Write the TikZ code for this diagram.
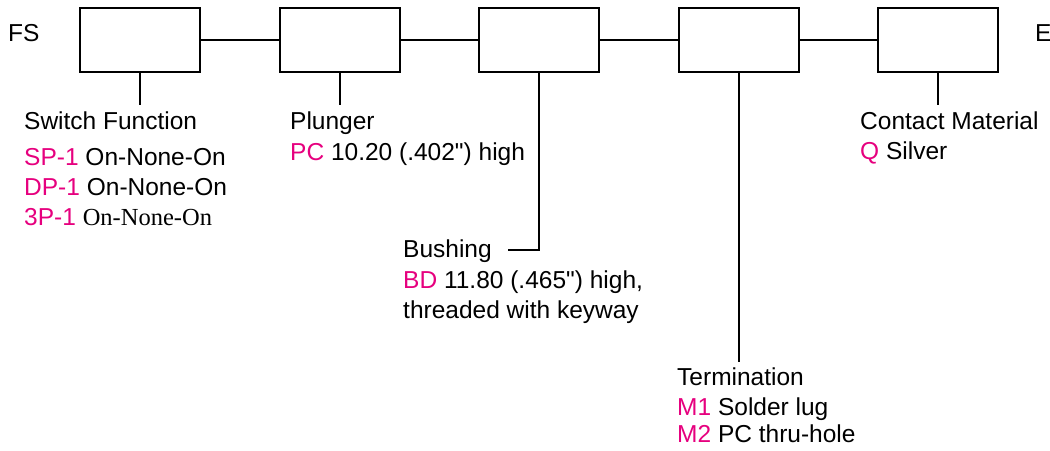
\documentclass[tikz,border=0pt]{standalone}
\usepackage{fontspec}
\setmainfont{Liberation Sans}
\newfontfamily\nomap{Liberation Sans}
\newfontfamily\serifalt{Liberation Serif}
\definecolor{pnk}{RGB}{230,0,126}
\begin{document}
\begin{tikzpicture}[x=1pt,y=-1pt,
  box/.style={draw,line width=2pt,minimum width=120pt,minimum height=64pt,inner sep=0pt},
  wire/.style={line width=2pt},
  lbl/.style={anchor=base west,inner sep=0pt,font=\fontsize{24.5}{29}\selectfont}]
\useasboundingbox (0,0) rectangle (1050,450);
\node[box] (b1) at (140,40) {};
\node[box] (b2) at (340,40) {};
\node[box] (b3) at (539,40) {};
\node[box] (b4) at (739,40) {};
\node[box] (b5) at (938,40) {};
\draw[wire] (b1.east) -- (b2.west);
\draw[wire] (b2.east) -- (b3.west);
\draw[wire] (b3.east) -- (b4.west);
\draw[wire] (b4.east) -- (b5.west);
\coordinate (t1) at (140,105);
\coordinate (t2) at (340,105);
\coordinate (t3a) at (539,250);
\coordinate (t3b) at (508,250);
\coordinate (t4) at (739,362);
\coordinate (t5) at (938,105);
\draw[wire] (b1.south) -- (t1);
\draw[wire] (b2.south) -- (t2);
\draw[wire] (b3.south) -- (t3a) -- (t3b);
\draw[wire] (b4.south) -- (t4);
\draw[wire] (b5.south) -- (t5);
\node[lbl] (fs) at (8,41) {FS};
\node[lbl] (e) at (1035,41) {E};
\node[lbl] (sf) at (24,129) {Switch Function};
\node[lbl] (sp) at (24,165) {\textcolor{pnk}{SP-1} On-None-On};
\node[lbl] (dp) at (24,195) {\textcolor{pnk}{DP-1} On-None-On};
\node[lbl] (tp) at (24,225) {\textcolor{pnk}{3P-1} {\serifalt On-None-On}};
\node[lbl] (pl) at (290,129) {Plunger};
\node[lbl] (pc) at (290,160) {\textcolor{pnk}{PC} 10.20 (.402{\nomap"}) high};
\node[lbl] (bu) at (403,257) {Bushing};
\node[lbl] (bd) at (403,288) {\textcolor{pnk}{BD} 11.80 (.465{\nomap"}) high,};
\node[lbl] (th) at (403,318) {threaded with keyway};
\node[lbl] (te) at (677,385) {Termination};
\node[lbl] (m1) at (677,415) {\textcolor{pnk}{M1} Solder lug};
\node[lbl] (m2) at (677,442) {\textcolor{pnk}{M2} PC thru-hole};
\node[lbl] (cm) at (860,129) {Contact Material};
\node[lbl] (q) at (860,159) {\textcolor{pnk}{Q} Silver};
\end{tikzpicture}
\end{document}
